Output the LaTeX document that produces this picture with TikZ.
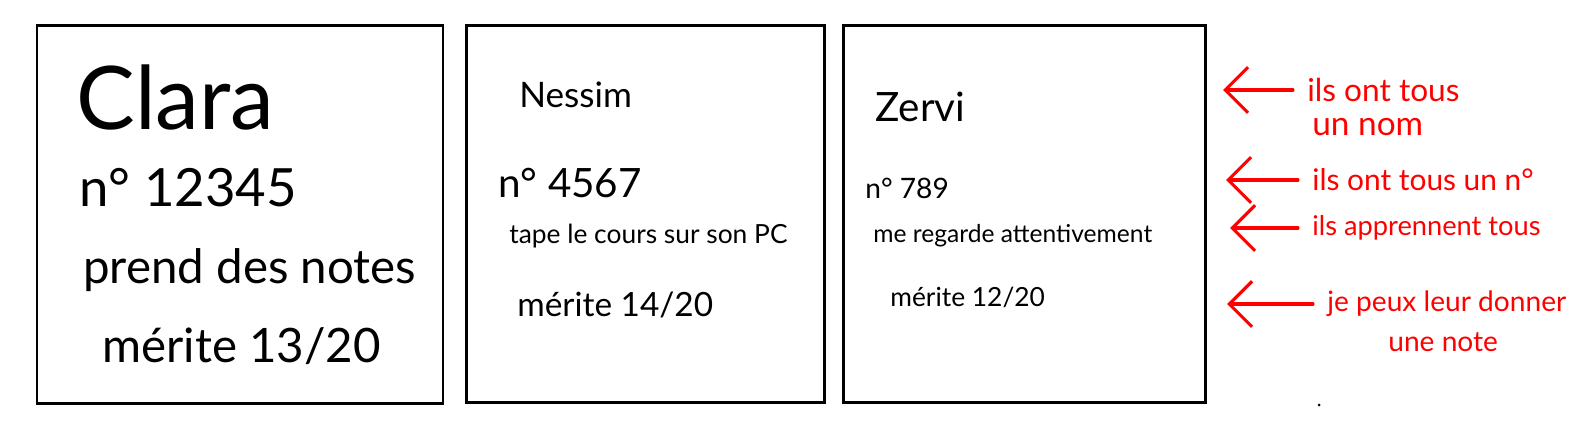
\documentclass[tikz,border=0pt]{standalone}
\usepackage{fontspec}
\setmainfont{Lato}
\usetikzlibrary{arrows.meta}
\definecolor{penred}{RGB}{255,0,0}
\tikzset{
  card/.style={draw, line width=1.7pt},
  hand/.style={anchor=west, inner sep=0pt},
  remark/.style={anchor=west, inner sep=0pt, text=penred, font=\fontsize{16}{16}\selectfont},
  pointer/.style={draw=penred, line width=1.8pt, line cap=round,
    -{Straight Barb[length=13pt,width=26pt,line width=1.8pt]}, shorten <=8pt}
}
\begin{document}
\begin{tikzpicture}[x=0.02cm,y=-0.02cm]
\useasboundingbox (0,0) rectangle (1595,434);
% the three cards
\draw[card] (37,25) rectangle (443,403);
\draw[card] (466,25) rectangle (824,402);
\draw[card] (843,25) rectangle (1205,402);
% Clara
\node[hand, font=\fontsize{50}{50}\selectfont] (clara) at (76,97) {Clara};
\node[hand, font=\fontsize{30}{30}\selectfont] (claranum) at (79,188) {n° 12345};
\node[hand, font=\fontsize{27}{27}\selectfont] (claraact) at (83,270) {prend des notes};
\node[hand, font=\fontsize{27}{27}\selectfont] (claragrade) at (102,346) {mérite 13/20};
% Nessim
\node[hand, font=\fontsize{20}{20}\selectfont] (nessim) at (519,95) {Nessim};
\node[hand, font=\fontsize{23}{23}\selectfont] (nessimnum) at (498,183) {n° 4567};
\node[hand, font=\fontsize{15}{15}\selectfont] (nessimact) at (509,236) {tape le cours sur son PC};
\node[hand, font=\fontsize{19}{19}\selectfont] (nessimgrade) at (517,305) {mérite 14/20};
% Zervi
\node[hand, font=\fontsize{23}{23}\selectfont] (zervi) at (875,107) {Zervi};
\node[hand, font=\fontsize{16}{16}\selectfont] (zervinum) at (865,188) {n° 789};
\node[hand, font=\fontsize{14}{14}\selectfont] (zerviact) at (873,236) {me regarde attentivement};
\node[hand, font=\fontsize{15}{15}\selectfont] (zervigrade) at (890,297) {mérite 12/20};
% remarks
\node[remark, font=\fontsize{18}{18}\selectfont] (rname) at (1307,90) {ils ont tous};
\node[remark, font=\fontsize{19}{19}\selectfont] (rname2) at (1312,127) {un nom};
\node[remark, font=\fontsize{17}{17}\selectfont] (rnum) at (1312,180) {ils ont tous un n°};
\node[remark, font=\fontsize{15.5}{15.5}\selectfont] (rlearn) at (1312,228) {ils apprennent tous};
\node[remark] (rgrade) at (1327,304) {je peux leur donner};
\node[remark] (rgrade2) at (1388,342) {une note};
\coordinate (pname) at (1223,90);
\coordinate (pnum) at (1226,180);
\coordinate (plearn) at (1230,228);
\coordinate (pgrade) at (1227,304);
\draw[pointer] (rname.west) -- (pname);
\draw[pointer] (rnum.west) -- (pnum);
\draw[pointer] (rlearn.west) -- (plearn);
\draw[pointer] (rgrade.west) -- (pgrade);
\fill (1319,405) circle (1.5);
\end{tikzpicture}
\end{document}
